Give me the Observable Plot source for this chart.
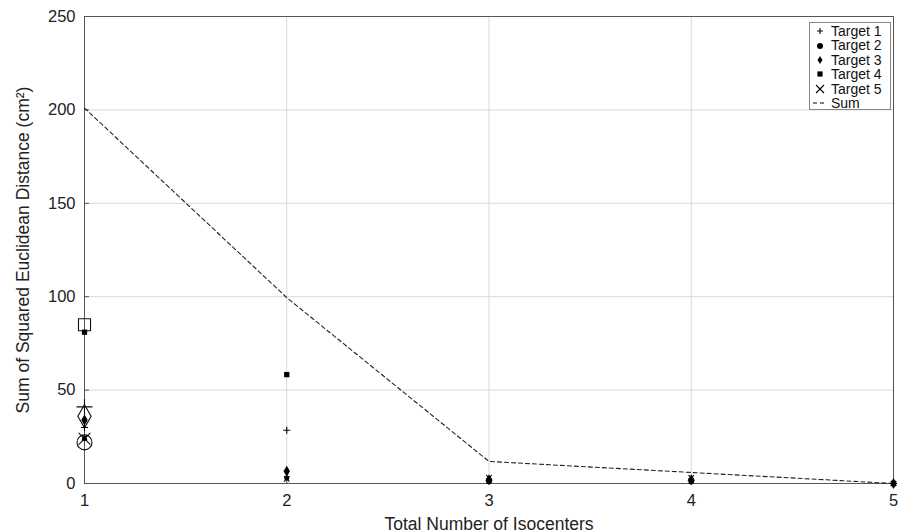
<!DOCTYPE html>
<html>
<head>
<meta charset="utf-8">
<script src="https://cdn.jsdelivr.net/npm/d3@7"></script>
<script src="https://cdn.jsdelivr.net/npm/@observablehq/plot@0.6"></script>
<style>
  html, body { margin: 0; padding: 0; background: #fff; }
  #wrap { position: relative; width: 907px; height: 532px; font-family: "Liberation Sans", Arial, sans-serif; }
  #wrap g[aria-label="x-axis label"] text, #wrap g[aria-label="y-axis label"] text { font-size: 17.5px; }
  #legend { position: absolute; left: 809px; top: 22px; width: 82px; height: 88px; border: 1px solid #888; background: #fff;
            font-size: 14px; line-height: 14.4px; padding: 1px 0 0 0; box-sizing: border-box; }
  #legend .row { display: flex; align-items: center; height: 14.4px; color: #111; }
  #legend svg { width: 16px; height: 12px; margin-left: 2px; margin-right: 3px; overflow: visible; }
</style>
</head>
<body>
<div id="wrap"></div>
<script>
// ---- data ----
const isocenters = [1, 2, 3, 4, 5];
const targetNames = ["Target 1", "Target 2", "Target 3", "Target 4", "Target 5"];
const target1 = [30, 28.5, 1.5, 1.5, 0];
const target2 = [24, 3, 1, 0.8, 0];
const target3 = [34, 6.5, 2, 2, 0];
const target4 = [81, 58.3, 1.5, 1.5, 0];
const target5 = [24.5, 2.5, 3, 3, 0];
const sumValues = [201, 99.5, 11.8, 5.9, 0];
// large hollow markers drawn at 1 isocenter
const hollowValues = [41, 22, 36, 85, 24];
const xTicks = [1, 2, 3, 4, 5];
const yTicks = [0, 50, 100, 150, 200, 250];

const seriesValues = [target1, target2, target3, target4, target5];
const symbols = ["plus", "circle", "diamond", "square", "times"];
const sizes = [2.4, 2.5, 3.4, 3.0, 2.6];
const hollowSizes = [5.2, 7.5, 7, 6.8, 5.4];
const strokeOnly = [true, false, false, false, true];

const points = [];
seriesValues.forEach((vals, i) => vals.forEach((v, j) => points.push({x: isocenters[j], y: v, s: i})));
const sumData = isocenters.map((x, j) => ({x, y: sumValues[j]}));
const hollow = hollowValues.map((v, i) => ({x: isocenters[0], y: v, s: i}));

const marks = [
  Plot.gridX(xTicks, {stroke: "#d9d9d9", strokeOpacity: 1}),
  Plot.gridY(yTicks, {stroke: "#d9d9d9", strokeOpacity: 1}),
  Plot.frame({stroke: "#555"}),
  Plot.axisX(xTicks, {tickSize: -5, tickPadding: 16, stroke: "#555", fontSize: 16.5, tickFormat: "d", label: "Total Number of Isocenters", labelAnchor: "center", labelOffset: 46, labelArrow: "none"}),
  Plot.axisY(yTicks, {tickSize: -5, tickPadding: 14, stroke: "#555", fontSize: 16.5, tickFormat: "d", label: "Sum of Squared Euclidean Distance (cm²)", labelAnchor: "center", labelOffset: 68, labelArrow: "none"}),
  Plot.line(sumData, {x: "x", y: "y", stroke: "#222", strokeWidth: 1.1, strokeDasharray: "4,3"}),
];
// hollow large markers
hollow.forEach((d) => {
  marks.push(Plot.dot([d], {x: "x", y: "y", symbol: symbols[d.s], r: hollowSizes[d.s], stroke: "#111", strokeWidth: 1.1, fill: "none"}));
});
// target series
seriesValues.forEach((vals, i) => {
  const data = points.filter(p => p.s === i);
  if (strokeOnly[i]) {
    marks.push(Plot.dot(data, {x: "x", y: "y", symbol: symbols[i], r: sizes[i], stroke: "#000", strokeWidth: 1.1, fill: "none"}));
  } else {
    marks.push(Plot.dot(data, {x: "x", y: "y", symbol: symbols[i], r: sizes[i], fill: "#000", stroke: "none"}));
  }
});

const chart = Plot.plot({
  width: 907,
  height: 532,
  marginLeft: 84,
  marginRight: 14,
  marginTop: 16,
  marginBottom: 49,
  style: {fontFamily: "'Liberation Sans', Arial, sans-serif", fontSize: "17px", color: "#222", background: "#fff", overflow: "visible"},
  x: {domain: [1, 5]},
  y: {domain: [0, 250]},
  marks
});
const wrap = document.getElementById("wrap");
wrap.appendChild(chart);

// ---- legend ----
const legend = document.createElement("div");
legend.id = "legend";
const legendSymbols = {
  plus: '<path d="M5,6H11M8,3V9" stroke="#000" stroke-width="1.1" fill="none"/>',
  circle: '<circle cx="8" cy="6" r="3" fill="#000"/>',
  diamond: '<path d="M8,2L10.5,6L8,10L5.5,6Z" fill="#000"/>',
  square: '<rect x="5.4" y="3.4" width="5.2" height="5.2" fill="#000"/>',
  times: '<path d="M4,2L12,10M12,2L4,10" stroke="#000" stroke-width="1.1" fill="none"/>'
};
targetNames.forEach((name, i) => {
  const row = document.createElement("div");
  row.className = "row";
  row.innerHTML = `<svg viewBox="0 0 16 12">${legendSymbols[symbols[i]]}</svg><span>${name}</span>`;
  legend.appendChild(row);
});
const sumRow = document.createElement("div");
sumRow.className = "row";
sumRow.innerHTML = '<svg viewBox="0 0 16 12"><path d="M1,6H15" stroke="#000" stroke-width="1.1" stroke-dasharray="4,3"/></svg><span>Sum</span>';
legend.appendChild(sumRow);
wrap.appendChild(legend);
</script>
</body>
</html>
